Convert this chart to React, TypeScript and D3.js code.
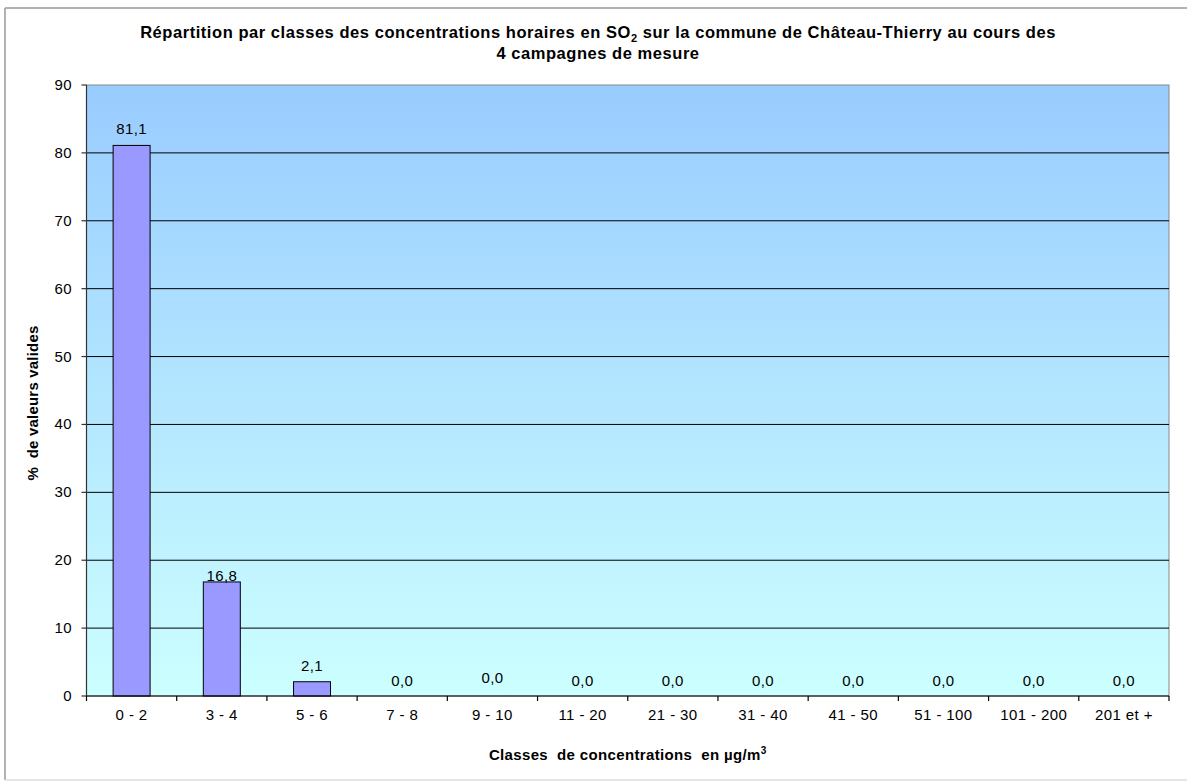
import React from "react";
import * as d3 from "d3";

// Concentration classes (µg/m³) and share of valid hourly values (%)
const classes = ["0 - 2", "3 - 4", "5 - 6", "7 - 8", "9 - 10", "11 - 20", "21 - 30", "31 - 40", "41 - 50", "51 - 100", "101 - 200", "201 et +"];
const percentages = [81.1, 16.8, 2.1, 0.0, 0.0, 0.0, 0.0, 0.0, 0.0, 0.0, 0.0, 0.0];
// Small vertical nudges for a few value labels (px)
const labelNudge = [0, 10, 0, 1, -2, 1, 1, 1, 1, 1, 1, 1];
const yTicks = [0, 10, 20, 30, 40, 50, 60, 70, 80, 90];

const W = 1187;
const H = 781;
const plot = { left: 86.5, right: 1169, top: 85, bottom: 696 };
const FONT = "'Liberation Sans', Arial, sans-serif";

export default function App() {
  const x = d3.scaleBand<string>().domain(classes).range([plot.left, plot.right]).padding(0);
  const y = d3.scaleLinear().domain([0, 90]).range([plot.bottom, plot.top]);
  const bw = x.bandwidth();
  const barW = bw * 0.41;
  const fmt = (v: number) => v.toFixed(1).replace(".", ",");
  const boundaries = classes.map((c) => x(c) as number).concat([plot.right]);

  return (
    <svg width={W} height={H} style={{ position: "absolute", left: 0, top: 0 }} fontFamily={FONT}>
      <defs>
        <linearGradient id="bg" x1="0" y1="0" x2="0" y2="1">
          <stop offset="0" stopColor="#99CCFF" />
          <stop offset="1" stopColor="#CCFFFF" />
        </linearGradient>
      </defs>
      <rect x={0} y={0} width={W} height={H} fill="#fff" />
      {/* chart frame */}
      <line x1={5} y1={8} x2={W} y2={8} stroke="#999" strokeWidth={1.5} />
      <line x1={5} y1={8} x2={5} y2={780} stroke="#999" strokeWidth={1.5} />
      <line x1={5} y1={780} x2={W} y2={780} stroke="#ddd" strokeWidth={1.5} />

      {/* title */}
      <text x={598} y={37.5} textAnchor="middle" fontWeight="bold" fontSize={16.5} letterSpacing={0.55} fill="#000">
        Répartition par classes des concentrations horaires en SO
        <tspan fontSize={11} dy={4}>2</tspan>
        <tspan dy={-4}> sur la commune de Château-Thierry au cours des</tspan>
      </text>
      <text x={598} y={59} textAnchor="middle" fontWeight="bold" fontSize={16.5} letterSpacing={0.55} fill="#000">
        4 campagnes de mesure
      </text>

      {/* plot area */}
      <rect x={plot.left} y={plot.top} width={plot.right - plot.left} height={plot.bottom - plot.top} fill="url(#bg)" stroke="#888" strokeWidth={1} />
      {yTicks.filter((t) => t > 0 && t < 90).map((t) => (
        <line key={t} x1={plot.left} x2={plot.right} y1={y(t)} y2={y(t)} stroke="#000" strokeWidth={1} />
      ))}

      {/* bars */}
      {classes.map((c, i) => {
        const cx = (x(c) as number) + bw / 2;
        return (
          <rect key={c} x={cx - barW / 2} y={y(percentages[i])} width={barW} height={y(0) - y(percentages[i])}
            fill="#9999FF" stroke="#000" strokeWidth={1} />
        );
      })}

      {/* value labels */}
      {classes.map((c, i) => {
        const cx = (x(c) as number) + bw / 2;
        return (
          <text key={c} x={cx} y={y(percentages[i]) - 11 + labelNudge[i]} textAnchor="middle" fontSize={15} letterSpacing={0.4} fill="#000">
            {fmt(percentages[i])}
          </text>
        );
      })}

      {/* y axis */}
      <line x1={plot.left} x2={plot.left} y1={plot.top} y2={plot.bottom} stroke="#333" strokeWidth={1.2} />
      {yTicks.map((t) => (
        <g key={t}>
          <line x1={plot.left - 5} x2={plot.left} y1={y(t)} y2={y(t)} stroke="#333" strokeWidth={1.2} />
          <text x={72} y={y(t) + 5} textAnchor="end" fontSize={15} letterSpacing={0.4} fill="#000">{t}</text>
        </g>
      ))}

      {/* x axis */}
      <line x1={plot.left} x2={plot.right} y1={plot.bottom} y2={plot.bottom} stroke="#000" strokeWidth={1.2} />
      {boundaries.map((b, i) => (
        <line key={i} x1={b} x2={b} y1={plot.bottom} y2={plot.bottom + 5} stroke="#000" strokeWidth={1.2} />
      ))}
      {classes.map((c) => (
        <text key={c} x={(x(c) as number) + bw / 2} y={720} textAnchor="middle" fontSize={15} letterSpacing={0.4} fill="#000">{c}</text>
      ))}

      {/* axis titles */}
      <text x={(plot.left + plot.right) / 2} y={760} textAnchor="middle" fontWeight="bold" fontSize={15} letterSpacing={0.35} fill="#000" xmlSpace="preserve">
        Classes  de concentrations  en µg/m<tspan fontSize={10} dy={-6}>3</tspan>
      </text>
      <text transform={`translate(38, ${403}) rotate(-90)`} textAnchor="middle" fontWeight="bold" fontSize={15} letterSpacing={0.2} fill="#000" xmlSpace="preserve">
        %  de valeurs valides
      </text>
    </svg>
  );
}
